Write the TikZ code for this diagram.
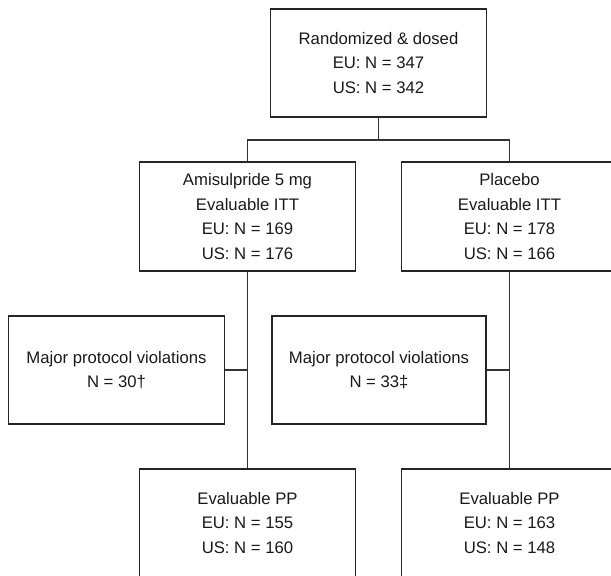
\documentclass[tikz,border=0pt]{standalone}
\usepackage{fontspec}
\setmainfont{Liberation Sans}
\usepackage{tikz}
\usetikzlibrary{positioning}

\tikzset{
    flowbox/.style={
        draw=black!85,
        line width=1.5pt,
        text=black!90,
        align=center,
        inner sep=0pt,
        minimum width=216pt,
        minimum height=108pt,
        font=\fontsize{16.7}{24.5}\selectfont
    },
    flowline/.style={
        draw=black!80,
        line width=1.1pt
    }
}

\begin{document}
\begin{tikzpicture}[x=1pt,y=-1pt]
                \useasboundingbox (0,0) rectangle (611,576);
                \clip (0,0) rectangle (611,576);

                \node[flowbox] (rand) at (378.5,63) {Randomized \& dosed\\EU: N = 347\\US: N = 342};

                \node[flowbox, minimum height=109pt] (ami) at (247.5,216.5) {Amisulpride 5 mg\\Evaluable ITT\\EU: N = 169\\US: N = 176};

                \node[flowbox, minimum height=109pt] (plac) at (509.5,216.5) {Placebo\\Evaluable ITT\\EU: N = 178\\US: N = 166};

                \node[flowbox] (viola) at (116.5,370) {Major protocol violations\\N = 30\textdagger};

                \node[flowbox, minimum width=214pt] (violb) at (379,370) {Major protocol violations\\N = 33\textdaggerdbl};

                \node[flowbox] (ppa) at (247.5,523) {Evaluable PP\\EU: N = 155\\US: N = 160};

                \node[flowbox] (ppb) at (509.5,523) {Evaluable PP\\EU: N = 163\\US: N = 148};

                \coordinate (split) at (378.5,140);

                \draw[flowline] (rand.south) -- (split);
                \draw[flowline] (ami.north) |- (split) -| (plac.north);
                \draw[flowline] (ami.south) -- (ppa.north);
                \draw[flowline] (plac.south) -- (ppb.north);
                \draw[flowline] (viola.east) -- (viola.east -| ami.south);
                \draw[flowline] (violb.east) -- (violb.east -| plac.south);
            \end{tikzpicture}
\end{document}
